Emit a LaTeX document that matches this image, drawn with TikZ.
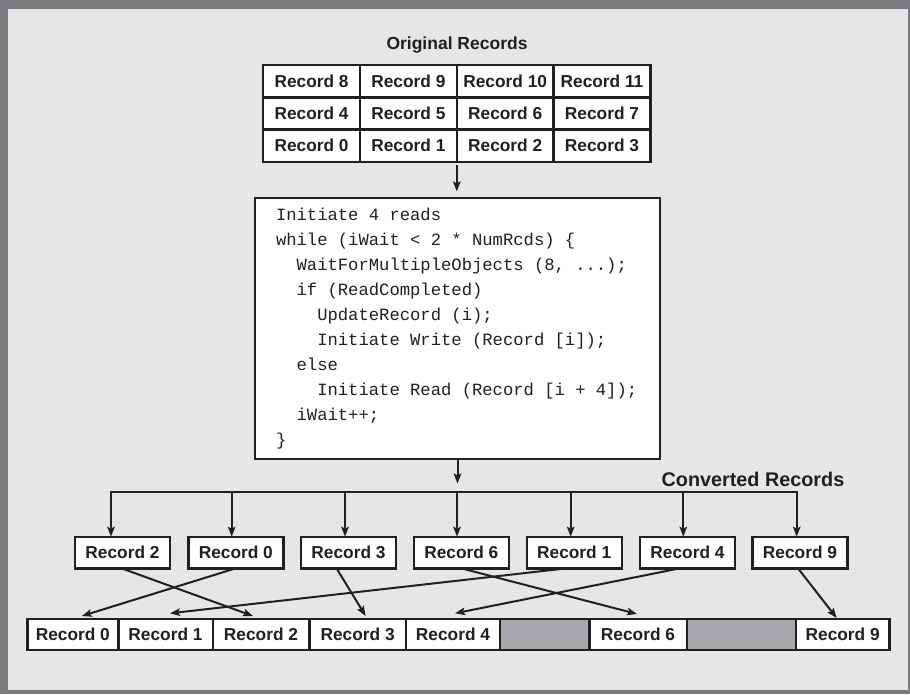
\documentclass[tikz,border=0pt]{standalone}
\usepackage{fontspec}
\setmainfont{Liberation Sans}
\setmonofont{Liberation Mono}
\usepackage{xcolor}
\usepackage{tikz}
\usetikzlibrary{arrows.meta}
\definecolor{ink}{RGB}{35,31,32}
\definecolor{panel}{RGB}{230,230,230}
\definecolor{frame}{RGB}{122,123,126}
\definecolor{empty}{RGB}{167,169,172}
\tikzset{
    rec/.style={
        draw=ink, line width=2.4pt, fill=white,
        inner sep=0pt, outer sep=0pt,
        text=ink,
        font=\fontsize{17.3}{20}\selectfont\bfseries
    },
    wire/.style={draw=ink, line width=2pt},
    arr/.style={
        wire,
        -{Stealth[length=10pt,width=7.5pt,inset=2pt]}
    }
}

\begin{document}
\begin{tikzpicture}[x=1pt,y=-1pt]

\useasboundingbox (0,0) rectangle (910,694);

% Cornice
\fill[frame] (0,0) rectangle (910,694);
\fill[panel] (7.5,8.5) rectangle (908,689.5);

% Record originali
\node[text=ink, font=\fontsize{17.5}{20}\selectfont\bfseries] (origtitle) at (457,45) {Original Records};

\node[rec, minimum width=96.8pt, minimum height=32.3pt] (or8) at (311.6,81.15) {Record 8};
\node[rec, minimum width=96.8pt, minimum height=32.3pt] (or9) at (408.4,81.15) {Record 9};
\node[rec, minimum width=96.8pt, minimum height=32.3pt] (or10) at (505.2,81.15) {Record 10};
\node[rec, minimum width=96.8pt, minimum height=32.3pt] (or11) at (602,81.15) {Record 11};

\node[rec, minimum width=96.8pt, minimum height=32.3pt] (or4) at (311.6,113.45) {Record 4};
\node[rec, minimum width=96.8pt, minimum height=32.3pt] (or5) at (408.4,113.45) {Record 5};
\node[rec, minimum width=96.8pt, minimum height=32.3pt] (or6) at (505.2,113.45) {Record 6};
\node[rec, minimum width=96.8pt, minimum height=32.3pt] (or7) at (602,113.45) {Record 7};

\node[rec, minimum width=96.8pt, minimum height=32.3pt] (or0) at (311.6,145.75) {Record 0};
\node[rec, minimum width=96.8pt, minimum height=32.3pt] (or1) at (408.4,145.75) {Record 1};
\node[rec, minimum width=96.8pt, minimum height=32.3pt] (or2) at (505.2,145.75) {Record 2};
\node[rec, minimum width=96.8pt, minimum height=32.3pt] (or3) at (602,145.75) {Record 3};

% Codice
\node[draw=ink, line width=2.4pt, fill=white, outer sep=0pt,
      minimum width=405pt, minimum height=261pt,
      inner xsep=21pt, text width=363pt, align=left, text=ink,
      font=\fontsize{17.2}{25}\ttfamily] (code) at (457.5,328.5)
{\spaceskip=0pt\xspaceskip=0pt\rightskip=0pt plus 1fil\relax
Initiate 4 reads\\
while (iWait < 2 * NumRcds) \{\\
\ \ WaitForMultipleObjects (8, ...);\\
\ \ if (ReadCompleted)\\
\ \ \ \ UpdateRecord (i);\\
\ \ \ \ Initiate Write (Record [i]);\\
\ \ else\\
\ \ \ \ Initiate Read (Record [i + 4]);\\
\ \ iWait++;\\
\}};

\draw[arr, shorten <=3pt, shorten >=6.5pt] (or1.south east) -- (or1.south east |- code.north);

% Record convertiti
\node[text=ink, font=\fontsize{19.8}{22}\selectfont\bfseries] (convtitle) at (753,479) {Converted Records};

\node[rec, minimum width=95pt, minimum height=31.6pt] (cv2) at (122.5,552.5) {Record 2};
\node[rec, minimum width=95pt, minimum height=31.6pt] (cv0) at (235.8,552.5) {Record 0};
\node[rec, minimum width=95pt, minimum height=31.6pt] (cv3) at (348.5,552.5) {Record 3};
\node[rec, minimum width=95pt, minimum height=31.6pt] (cv6) at (461.3,552.5) {Record 6};
\node[rec, minimum width=95pt, minimum height=31.6pt] (cv1) at (574.2,552.5) {Record 1};
\node[rec, minimum width=95pt, minimum height=31.6pt] (cv4) at (687.5,552.5) {Record 4};
\node[rec, minimum width=95pt, minimum height=31.6pt] (cv9) at (800,552.5) {Record 9};

% Smistamento
\coordinate (bus) at (457,492);
\coordinate (d2) at (111,492);
\coordinate (d0) at (231.7,492);
\coordinate (d3) at (345,492);
\coordinate (d6) at (457,492);
\coordinate (d1) at (570.7,492);
\coordinate (d4) at (683.3,492);
\coordinate (d9) at (796.7,492);

\draw[arr, shorten >=8.5pt] (code.south) -- (code.south |- bus);
\draw[wire, line cap=rect] (d2) -- (d9);

\draw[arr] (d2) -- (d2 |- cv2.north);
\draw[arr] (d0) -- (d0 |- cv0.north);
\draw[arr] (d3) -- (d3 |- cv3.north);
\draw[arr] (d6) -- (d6 |- cv6.north);
\draw[arr] (d1) -- (d1 |- cv1.north);
\draw[arr] (d4) -- (d4 |- cv4.north);
\draw[arr] (d9) -- (d9 |- cv9.north);

% File di uscita
\node[rec, minimum width=91pt, minimum height=31pt] (out0) at (72.8,634.5) {Record 0};
\node[rec, minimum width=94.4pt, minimum height=31pt] (out1) at (165.5,634.5) {Record 1};
\node[rec, minimum width=96.6pt, minimum height=31pt] (out2) at (261,634.5) {Record 2};
\node[rec, minimum width=96.7pt, minimum height=31pt] (out3) at (357.65,634.5) {Record 3};
\node[rec, minimum width=94pt, minimum height=31pt] (out4) at (453,634.5) {Record 4};
\node[rec, fill=empty, minimum width=89.3pt, minimum height=31pt] (gap5) at (544.65,634.5) {};
\node[rec, minimum width=97.4pt, minimum height=31pt] (out6) at (638,634.5) {Record 6};
\node[rec, fill=empty, minimum width=109.3pt, minimum height=31pt] (gap7) at (741.35,634.5) {};
\node[rec, minimum width=93.3pt, minimum height=31pt] (out9) at (842.65,634.5) {Record 9};

% Frecce incrociate
\draw[arr] ([xshift=-1pt]cv2.south) -- ([xshift=-8pt,yshift=3pt]out2.north);
\draw[arr] (cv0.south) -- ([xshift=9pt,yshift=3pt]out0.north);
\draw[arr] ([xshift=-12pt]cv3.south) -- ([xshift=8pt,yshift=3pt]out3.north);
\draw[arr] (cv6.south) -- ([xshift=-1pt,yshift=5pt]out6.north);
\draw[arr] ([xshift=-7.5pt]cv1.south) -- ([xshift=4.5pt,yshift=5.7pt]out1.north);
\draw[arr] ([xshift=-7.5pt]cv4.south) -- ([xshift=2pt,yshift=5.7pt]out4.north);
\draw[arr] ([xshift=-2pt]cv9.south) -- ([xshift=-6pt,yshift=1pt]out9.north);

\end{tikzpicture}
\end{document}
